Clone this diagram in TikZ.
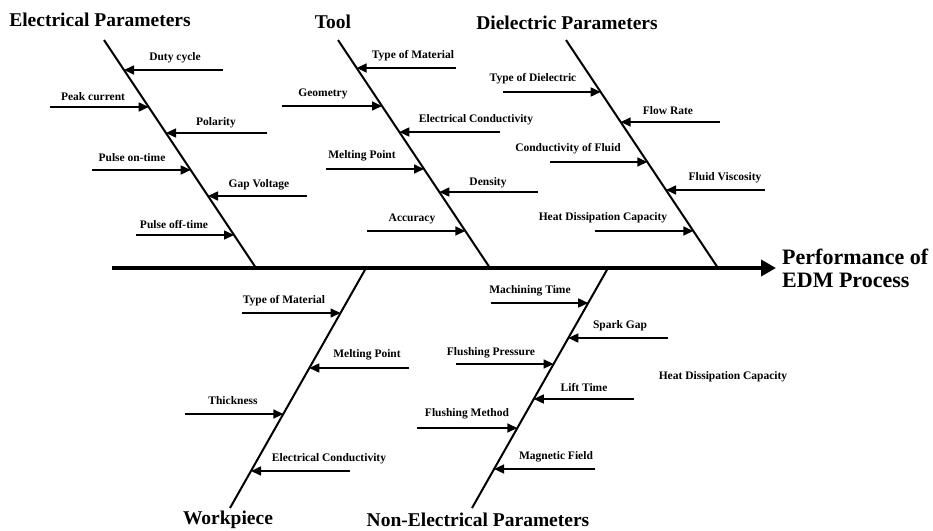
\documentclass[tikz,border=0pt]{standalone}
\usepackage{fontspec}
\setmainfont{Liberation Serif}
\usetikzlibrary{arrows.meta}
\begin{document}
\begin{tikzpicture}[x=1pt, y=-1pt,
  head node/.style={font=\bfseries\fontsize{19.5}{22}\selectfont, inner sep=0pt},
  cause node/.style={font=\bfseries\fontsize{11.5}{13}\selectfont, inner sep=0pt},
  bone/.style={line width=2pt},
  twig/.style={line width=1.6pt, -{Triangle[length=10pt,width=9pt]}}]

                \useasboundingbox (0,0) rectangle (933,530);

                % spine and effect
                \coordinate (s0) at (112,268);
                \coordinate (s1) at (776,268);
                \draw[line width=4.5pt, -{Triangle[length=15pt,width=16pt]}] (s0) -- (s1);
                \node[head node, font=\bfseries\fontsize{22}{23}\selectfont, anchor=west, align=left] at (782,268) (effect) {Performance of\\EDM Process};

                % categories
                \node[head node] at (100,20) (elec) {Electrical Parameters};
                \node[head node] at (333,22) (tool) {Tool};
                \node[head node] at (567,23) (diel) {Dielectric Parameters};
                \node[head node] at (228,520) (work) {Workpiece};
                \node[head node] at (478,520) (nonel) {Non-Electrical Parameters};

                % bones
                \coordinate (e0) at (104,40);  \coordinate (e1) at (256,268);
                \coordinate (t0) at (338,40);  \coordinate (t1) at (490,268);
                \coordinate (d0) at (566,40);  \coordinate (d1) at (718,268);
                \coordinate (w0) at (366,268); \coordinate (w1) at (230,508);
                \coordinate (n0) at (608,268); \coordinate (n1) at (472,508);
                \draw[bone] (e0) -- (e1);
                \draw[bone] (t0) -- (t1);
                \draw[bone] (d0) -- (d1);
                \draw[bone] (w0) -- (w1);
                \draw[bone] (n0) -- (n1);

                % electrical parameters
                \node[cause node] at (175,58) (duty) {Duty cycle};
                \node[cause node] at (93,97) (peak) {Peak current};
                \node[cause node] at (216,123) (pol) {Polarity};
                \node[cause node] at (132,158) (pon) {Pulse on-time};
                \node[cause node] at (259,185) (gap) {Gap Voltage};
                \node[cause node] at (174,225) (poff) {Pulse off-time};
                \coordinate (duty s) at (223,70);  \coordinate (duty t) at (124,70);
                \coordinate (peak s) at (50,107);  \coordinate (peak t) at (148.7,107);
                \coordinate (pol s) at (267,133);  \coordinate (pol t) at (166,133);
                \coordinate (pon s) at (92,170);   \coordinate (pon t) at (190.7,170);
                \coordinate (gap s) at (307,196);  \coordinate (gap t) at (208,196);
                \coordinate (poff s) at (136,235); \coordinate (poff t) at (234,235);
                \path[twig] (duty s) edge (duty t);
                \path[twig] (peak s) edge (peak t);
                \path[twig] (pol s) edge (pol t);
                \path[twig] (pon s) edge (pon t);
                \path[twig] (gap s) edge (gap t);
                \path[twig] (poff s) edge (poff t);

                % tool
                \node[cause node] at (413,56) (tmat) {Type of Material};
                \node[cause node] at (323,94) (geo) {Geometry};
                \node[cause node] at (476,120) (tcond) {Electrical Conductivity};
                \node[cause node] at (362,156) (tmelt) {Melting Point};
                \node[cause node] at (488,183) (dens) {Density};
                \node[cause node] at (412,219) (acc) {Accuracy};
                \coordinate (tmat s) at (456,68);   \coordinate (tmat t) at (356.7,68);
                \coordinate (geo s) at (282,106);   \coordinate (geo t) at (382,106);
                \coordinate (tcond s) at (500,132); \coordinate (tcond t) at (399.3,132);
                \coordinate (tmelt s) at (326,169); \coordinate (tmelt t) at (424,169);
                \coordinate (dens s) at (538,192);  \coordinate (dens t) at (439.3,192);
                \coordinate (acc s) at (367,231);   \coordinate (acc t) at (465.3,231);
                \path[twig] (tmat s) edge (tmat t);
                \path[twig] (geo s) edge (geo t);
                \path[twig] (tcond s) edge (tcond t);
                \path[twig] (tmelt s) edge (tmelt t);
                \path[twig] (dens s) edge (dens t);
                \path[twig] (acc s) edge (acc t);

                % dielectric parameters
                \node[cause node] at (533,79) (tdiel) {Type of Dielectric};
                \node[cause node] at (668,111) (flow) {Flow Rate};
                \node[cause node] at (568,149) (fcond) {Conductivity of Fluid};
                \node[cause node] at (725,178) (visc) {Fluid Viscosity};
                \node[cause node] at (603,218) (heat) {Heat Dissipation Capacity};
                \coordinate (tdiel s) at (503,92);  \coordinate (tdiel t) at (600.7,92);
                \coordinate (flow s) at (720,122);  \coordinate (flow t) at (620.7,122);
                \coordinate (fcond s) at (550,162); \coordinate (fcond t) at (647.3,162);
                \coordinate (visc s) at (765,190);  \coordinate (visc t) at (666,190);
                \coordinate (heat s) at (595,231);  \coordinate (heat t) at (693.3,231);
                \path[twig] (tdiel s) edge (tdiel t);
                \path[twig] (flow s) edge (flow t);
                \path[twig] (fcond s) edge (fcond t);
                \path[twig] (visc s) edge (visc t);
                \path[twig] (heat s) edge (heat t);

                % workpiece
                \node[cause node] at (284,301) (wmat) {Type of Material};
                \node[cause node] at (367,355) (wmelt) {Melting Point};
                \node[cause node] at (233,401) (thick) {Thickness};
                \node[cause node] at (329,459) (wcond) {Electrical Conductivity};
                \coordinate (wmat s) at (242,313);  \coordinate (wmat t) at (340.5,313);
                \coordinate (wmelt s) at (409,368); \coordinate (wmelt t) at (309.3,368);
                \coordinate (thick s) at (185,414); \coordinate (thick t) at (283.3,414);
                \coordinate (wcond s) at (350,471); \coordinate (wcond t) at (251,471);
                \path[twig] (wmat s) edge (wmat t);
                \path[twig] (wmelt s) edge (wmelt t);
                \path[twig] (thick s) edge (thick t);
                \path[twig] (wcond s) edge (wcond t);

                % non-electrical parameters
                \node[cause node] at (530,291) (mach) {Machining Time};
                \node[cause node] at (620,326) (spark) {Spark Gap};
                \node[cause node] at (491,353) (fpress) {Flushing Pressure};
                \node[cause node] at (584,388) (lift) {Lift Time};
                \node[cause node] at (467,414) (fmeth) {Flushing Method};
                \node[cause node] at (556,457) (mag) {Magnetic Field};
                \node[cause node] at (723,377) (heat2) {Heat Dissipation Capacity};
                \coordinate (mach s) at (491,303);   \coordinate (mach t) at (588.2,303);
                \coordinate (spark s) at (668,338);  \coordinate (spark t) at (568.3,338);
                \coordinate (fpress s) at (456,364); \coordinate (fpress t) at (553.6,364);
                \coordinate (lift s) at (634,399);   \coordinate (lift t) at (533.8,399);
                \coordinate (fmeth s) at (417,428);  \coordinate (fmeth t) at (517.3,428);
                \coordinate (mag s) at (595,469);    \coordinate (mag t) at (494.1,469);
                \path[twig] (mach s) edge (mach t);
                \path[twig] (spark s) edge (spark t);
                \path[twig] (fpress s) edge (fpress t);
                \path[twig] (lift s) edge (lift t);
                \path[twig] (fmeth s) edge (fmeth t);
                \path[twig] (mag s) edge (mag t);
\end{tikzpicture}
\end{document}
